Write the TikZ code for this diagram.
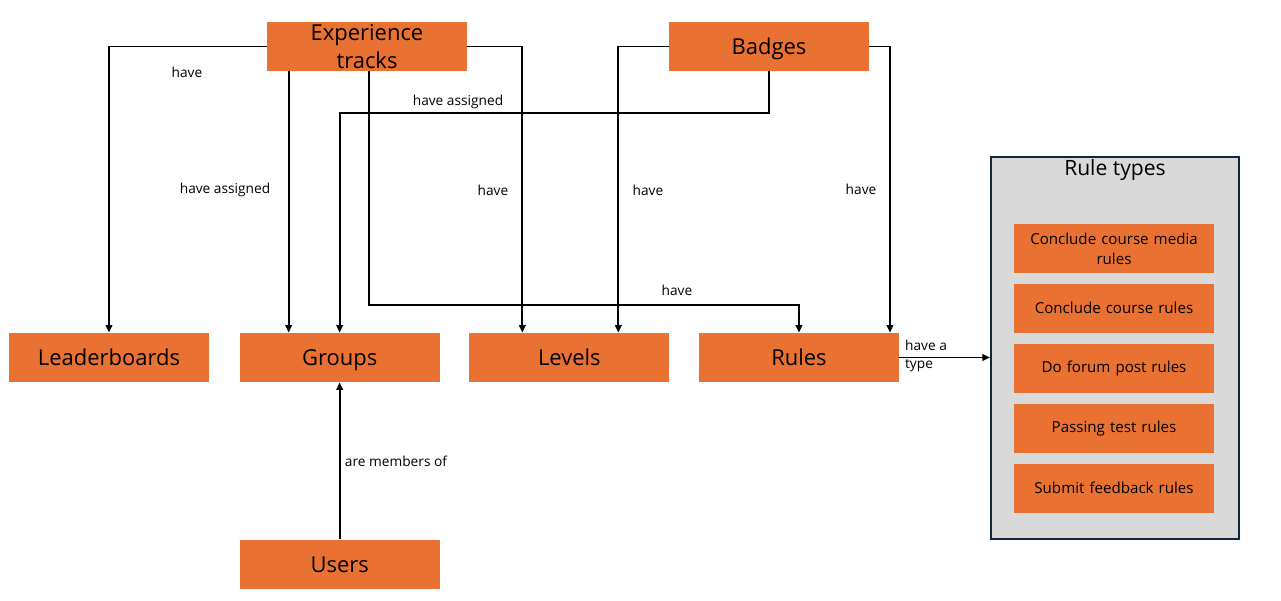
\documentclass[tikz,border=0pt]{standalone}
\usepackage{fontspec}
\setmainfont{Open Sans}
\usepackage{xcolor}
\usetikzlibrary{arrows.meta, positioning, calc}

\definecolor{boxorange}{HTML}{E97132}
\definecolor{panelgray}{HTML}{D9D9D9}
\definecolor{paneledge}{HTML}{0E2841}

\begin{document}
\begin{tikzpicture}[
  x=0.02cm, y=-0.02cm,
  ent/.style={fill=boxorange, align=center, font=\fontsize{12.5}{16.4}\selectfont,
              minimum width=4cm, minimum height=0.98cm, inner sep=1pt,
              text height=2.2ex, text depth=0.4ex},
  ruletype/.style={fill=boxorange, align=center, font=\fontsize{8.6}{11.3}\selectfont,
                   text width=3.8cm, minimum width=4cm, minimum height=0.98cm, inner sep=1pt},
  lbl/.style={font=\fontsize{7.8}{10}\selectfont, inner sep=1pt},
  arr/.style={-{Triangle[length=1.5mm, width=1.3mm]}, line width=1pt}
]
  \useasboundingbox (0,0) rectangle (1281,601);

  % top row
  \node[ent, text height=, text depth=] (et) at (367,46.5) {Experience\\tracks};
  \node[ent] (bd) at (769,46.5) {Badges};

  % middle row
  \node[ent] (lb) at (109,357.5) {Leaderboards};
  \node[ent, right=0.6cm of lb] (gr) {Groups};
  \node[ent, right=0.58cm of gr] (lv) {Levels};
  \node[ent, right=0.58cm of lv] (ru) {Rules};
  \node[ent, below=3.14cm of gr] (us) {Users};

  % rule types panel
  \node[draw=paneledge, line width=1.2pt, fill=panelgray,
        minimum width=4.96cm, minimum height=7.64cm] (rt) at (1115,348) {};
  \node[font=\fontsize{12}{14}\selectfont] (rttitle) at (1115,170) {Rule types};
  \node[ruletype] (r1) at (1114,248.5) {Conclude course media\\rules};
  \node[ruletype, below=0.2cm of r1] (r2) {Conclude course rules};
  \node[ruletype, below=0.22cm of r2] (r3) {Do forum post rules};
  \node[ruletype, below=0.2cm of r3] (r4) {Passing test rules};
  \node[ruletype, below=0.2cm of r4] (r5) {Submit feedback rules};

  % connectors
  \coordinate (etA) at ($(et.south west)+(22,0)$);
  \coordinate (etB) at ($(et.south)+(2,0)$);

  \draw[arr] (et.west) -| (lb.north);
  \draw[arr] (etA) -- (etA |- gr.north);
  \draw[arr] (et.east) -| ([xshift=-0.94cm]lv.north);
  \draw[arr] (etB) |- ([yshift=0.56cm]ru.north) -- (ru.north);
  \draw[arr] (bd.west) -| ([xshift=0.98cm]lv.north);
  \draw[arr] (bd.east) -| ([xshift=1.82cm]ru.north);
  \draw[arr] (bd.south) -- ([yshift=-0.84cm]bd.south) -| (gr.north);
  \draw[arr] (us.north) -- (gr.south);
  \draw[arr] (ru.east) -- (ru.east -| rt.west);

  % labels
  \node[lbl] (l1) at (187,72) {have};
  \node[lbl] (l2) at (225,190) {have assigned};
  \node[lbl] (l3) at (493,190) {have};
  \node[lbl] (l4) at (648,190) {have};
  \node[lbl] (l5) at (861,189) {have};
  \node[lbl] (l6) at (458,102) {have assigned};
  \node[lbl] (l7) at (677,290) {have};
  \node[lbl] (l8) at (396,461) {are members of};
  \node[lbl, align=left, anchor=west] (l9) at (903,356) {have a\\type};
\end{tikzpicture}
\end{document}
